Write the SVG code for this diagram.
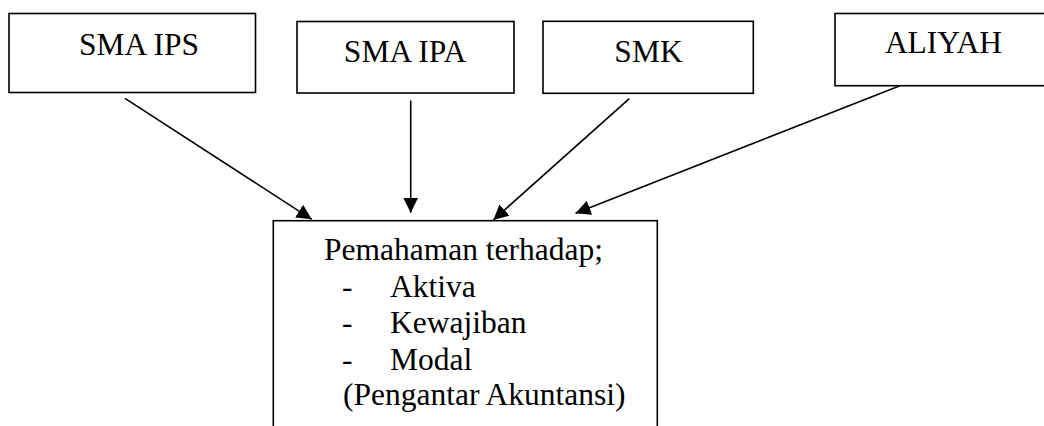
<svg xmlns="http://www.w3.org/2000/svg" width="1044" height="426" viewBox="0 0 1044 426">
  <style>
    .box { fill: #ffffff; stroke: #000000; stroke-width: 1.6; }
    .lbl { font-family: "Liberation Serif", "Times New Roman", serif; font-size: 31.5px; fill: #000000; }
    .mid { text-anchor: middle; }
    .conn { stroke: #000000; stroke-width: 1.6; fill: none; marker-end: url(#arrow); }
  </style>
  <defs>
    <marker id="arrow" viewBox="0 0 15 15" markerWidth="15" markerHeight="15" refX="15" refY="7.5" orient="auto" markerUnits="userSpaceOnUse">
      <path d="M0,0 L15,7.5 L0,15 z" fill="#000000"/>
    </marker>
  </defs>

  <g id="node-sma-ips">
    <rect class="box" x="9" y="13.5" width="246.5" height="79"/>
    <text class="lbl mid" x="139" y="55">SMA IPS</text>
  </g>
  <g id="node-sma-ipa">
    <rect class="box" x="297" y="21.5" width="217" height="71.5"/>
    <text class="lbl mid" x="405" y="61.7">SMA IPA</text>
  </g>
  <g id="node-smk">
    <rect class="box" x="543" y="21.3" width="210.3" height="72"/>
    <text class="lbl mid" x="648.5" y="61.7">SMK</text>
  </g>
  <g id="node-aliyah">
    <rect class="box" x="835" y="13.5" width="217" height="72.2"/>
    <text class="lbl mid" x="943.5" y="53.3">ALIYAH</text>
  </g>
  <g id="node-pemahaman">
    <rect class="box" x="273.3" y="220.7" width="384" height="220"/>
    <text class="lbl" x="324" y="260">Pemahaman terhadap;</text>
    <text class="lbl" x="342" y="296.7">-</text>
    <text class="lbl" x="390" y="296.7">Aktiva</text>
    <text class="lbl" x="342" y="333.3">-</text>
    <text class="lbl" x="390" y="333.3">Kewajiban</text>
    <text class="lbl" x="342" y="370.3">-</text>
    <text class="lbl" x="390" y="370.3">Modal</text>
    <text class="lbl" x="343" y="405">(Pengantar Akuntansi)</text>
  </g>

  <g id="connectors">
    <line class="conn" x1="125" y1="98.3" x2="311.7" y2="219.3"/>
    <line class="conn" x1="410.7" y1="100.5" x2="410.7" y2="212.7"/>
    <line class="conn" x1="629.3" y1="98.7" x2="493.3" y2="220"/>
    <line class="conn" x1="900" y1="85.7" x2="575.5" y2="213.3"/>
  </g>
</svg>
